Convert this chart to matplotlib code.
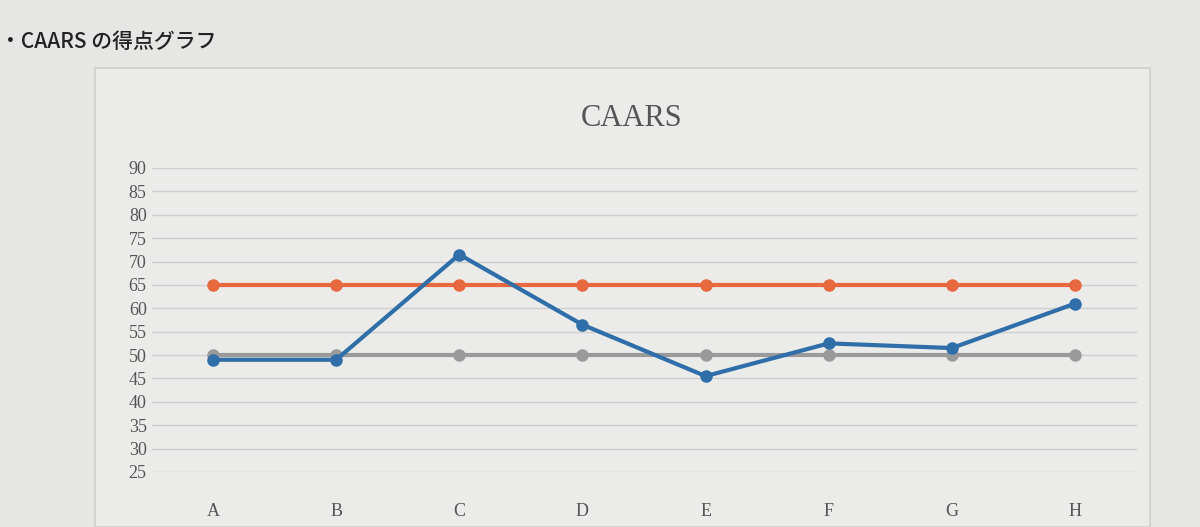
import matplotlib
matplotlib.use("Agg")
import matplotlib.pyplot as plt
from matplotlib.patches import Rectangle

categories = ["A", "B", "C", "D", "E", "F", "G", "H"]
score = [49, 49, 71.5, 56.5, 45.5, 52.5, 51.5, 61]
upper = [65, 65, 65, 65, 65, 65, 65, 65]
mean = [50, 50, 50, 50, 50, 50, 50, 50]
yticks = list(range(25, 95, 5))

fig = plt.figure(figsize=(12, 5.27), dpi=100)
fig.patch.set_facecolor("#e6e6e4")
rect = Rectangle((95/1200, 0), (1150-95)/1200, 1-68/527, transform=fig.transFigure,
                 facecolor="#ebebe9", edgecolor="#cfcfcd", lw=1.2, zorder=-10)
fig.patches.append(rect)
fig.text(0.0, 1-42/527, "・CAARS の得点グラフ", fontsize=15, va="center", ha="left",
         family=["Noto Sans CJK JP", "DejaVu Sans"], color="#222222", fontweight="medium")
fig.text(632/1200, 1-118/527, "CAARS", fontsize=22, ha="center", va="center",
         family="Liberation Serif", color="#555555")

ax = fig.add_axes([151.5/1200, 1-472/527, 985/1200, 304/527])
ax.set_zorder(5)
ax.set_facecolor("none")
x = range(len(categories))
ax.plot(x, upper, color="#e8683f", lw=3, marker="o", ms=8)
ax.plot(x, mean, color="#9a9a9a", lw=3, marker="o", ms=8)
ax.plot(x, score, color="#2f6ea8", lw=3, marker="o", ms=8)
ax.set_xlim(-0.5, 7.5)
ax.set_ylim(25, 90)
ax.set_yticks(yticks)
ax.set_xticks(list(x))
ax.set_xticklabels(categories)
ax.grid(axis="y", color="#cfcfcf", lw=1)
ax.set_axisbelow(True)
for s in ax.spines.values():
    s.set_visible(False)
ax.tick_params(length=0, labelsize=13, colors="#555555")
ax.tick_params(axis="x", pad=22)
for lab in ax.get_xticklabels() + ax.get_yticklabels():
    lab.set_family("Liberation Serif")
fig.savefig("out.png", dpi=100, facecolor=fig.get_facecolor())
